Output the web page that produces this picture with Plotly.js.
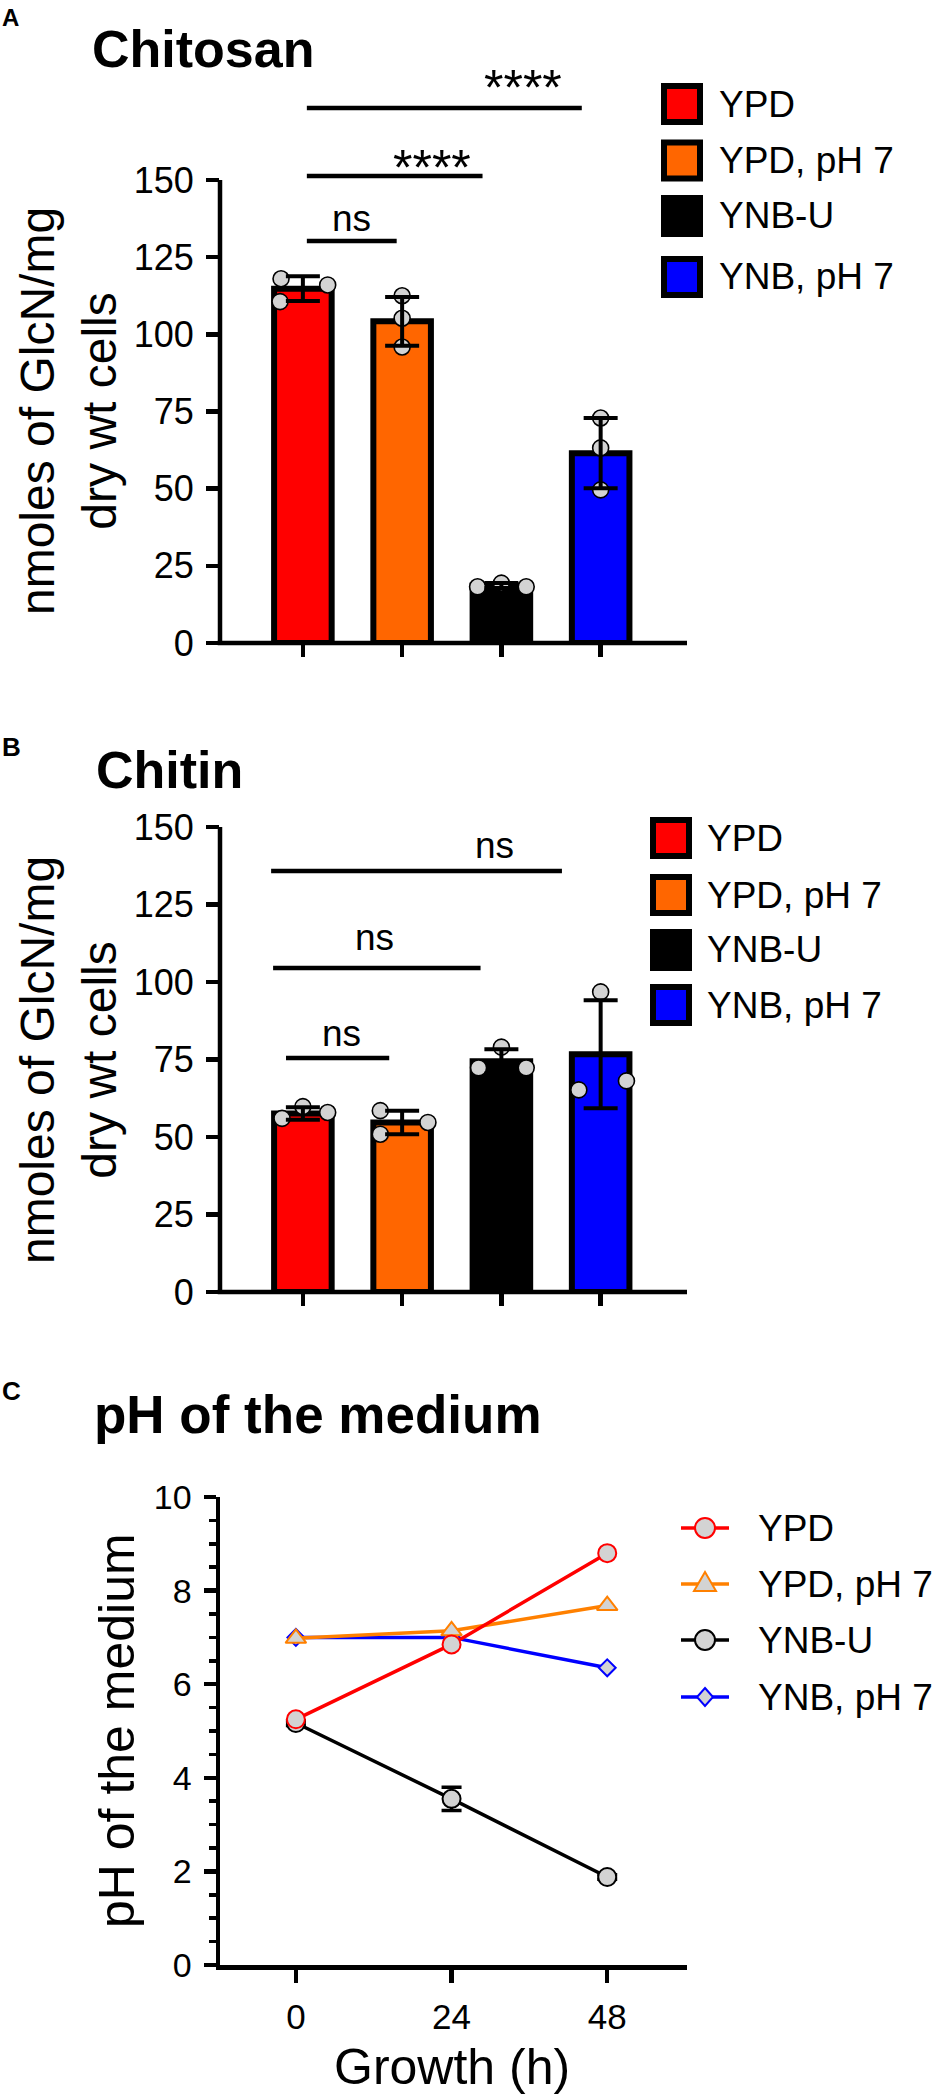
<!DOCTYPE html>
<html>
<head>
<meta charset="utf-8">
<script src="https://cdn.plot.ly/plotly-3.0.1.min.js"></script>
<style>html,body{margin:0;padding:0;background:#fff}#chart{width:946px;height:2099px}</style>
</head>
<body>
<div id="chart"></div>
<script>
// ---------------- data ----------------
const groups = ['YPD', 'YPD, pH 7', 'YNB-U', 'YNB, pH 7'];
const groupIndex = [0, 1, 2, 3];

// Panel A - Chitosan (nmoles GlcN / mg dry wt cells)
const chitosanMean = [114.8, 104.2, 18.6, 61.5];
const chitosanErr  = [4.0, 7.9, 0.8, 11.4];
const chitosanRep1 = [118.0, 112.5, 18.2, 72.9];
const chitosanRep2 = [116.0, 105.2, 19.4, 63.2];
const chitosanRep3 = [110.6, 95.9, 18.2, 49.6];

// Panel B - Chitin
const chitinMean = [57.6, 54.7, 74.4, 76.7];
const chitinErr  = [2.0, 3.8, 3.9, 17.4];
const chitinRep1 = [56.0, 58.5, 72.3, 96.8];
const chitinRep2 = [59.8, 50.9, 79.0, 65.2];
const chitinRep3 = [57.9, 54.7, 72.3, 68.1];

// Panel C - pH of the medium
const hours   = [0, 24, 48];
const phYPD   = [5.25, 6.85, 8.80];
const phYPD7  = [6.98, 7.14, 7.68];
const phYNBU  = [5.17, 3.55, 1.88];
const phYNBUerr = [0.05, 0.25, 0.05];
const phYNB7  = [7.00, 7.00, 6.35];

// tick labels
const amountTicks = [0, 25, 50, 75, 100, 125, 150];
const phTicks = [0, 2, 4, 6, 8, 10];
const hourTicks = [0, 24, 48];

// ---------------- styles / geometry ----------------
const W = 946, H = 2099;
const X = px => px / W;
const Y = py => 1 - py / H;
const FONT = 'Liberation Sans, Arial, Helvetica, sans-serif';
const barColors = ['#ff0000', '#ff6600', '#000000', '#0000ff'];
const GREY = '#d3d3d3';
const LW = 4.5;

// horizontal jitter of the replicate dots (rep1, rep2, rep3) per group
const jitterA = [[-0.22, 0.25, -0.23], [0, 0, 0], [-0.24, 0, 0.25], [0, 0, 0]];
const jitterB = [[-0.21, 0, 0.25], [-0.22, -0.22, 0.26], [-0.23, 0, 0.25], [0, -0.22, 0.26]];

// pixel frames of the three panels
const panA = {x0: 220, x1: 687, zero: 643, top150: 180, top: 60};
const panB = {x0: 220, x1: 687, zero: 1292, top150: 827, top: 800};
const panC = {x0: 220, x1: 687, bottom: 1965, top: 1497};

// significance brackets (group-index extents, level in data units, label spot)
const sigA = [
  {x0: 0.04, x1: 0.945, y: 130.2, tx: 0.49, ty: 137.5, t: 'ns', fs: 37},
  {x0: 0.04, x1: 1.81, y: 151.3, tx: 1.30, ty: 154.0, t: '****', fs: 50},
  {x0: 0.04, x1: 2.81, y: 173.3, tx: 2.22, ty: 179.8, t: '****', fs: 50}
];
const sigB = [
  {x0: -0.17, x1: 0.87, y: 75.5, tx: 0.39, ty: 83.5, t: 'ns', fs: 37},
  {x0: -0.30, x1: 1.79, y: 104.5, tx: 0.72, ty: 114.5, t: 'ns', fs: 37},
  {x0: -0.32, x1: 2.61, y: 135.8, tx: 1.93, ty: 144.0, t: 'ns', fs: 37}
];

function flatten(reps, jit) {
  const xs = [], ys = [];
  for (let g = 0; g < groupIndex.length; g++) {
    for (let r = 0; r < reps.length; r++) {
      xs.push(groupIndex[g] + jit[g][r]);
      ys.push(reps[r][g]);
    }
  }
  return {xs, ys};
}

function barPanel(xa, ya, mean, err, reps, jit) {
  const pts = flatten(reps, jit);
  return [
    {type: 'bar', x: groupIndex, y: mean, xaxis: xa, yaxis: ya, width: 0.58,
     marker: {color: barColors, line: {color: '#000', width: 6}}, hoverinfo: 'skip', showlegend: false},
    {type: 'scatter', mode: 'markers', x: pts.xs, y: pts.ys, xaxis: xa, yaxis: ya, cliponaxis: false,
     marker: {size: 16, color: GREY, line: {color: '#000', width: 1.6}}, hoverinfo: 'skip', showlegend: false},
    {type: 'scatter', mode: 'markers', x: groupIndex, y: mean, xaxis: xa, yaxis: ya, cliponaxis: false,
     marker: {size: 2, opacity: 0},
     error_y: {type: 'data', array: err, visible: true, color: '#000', thickness: 4, width: 17},
     hoverinfo: 'skip', showlegend: false}
  ];
}

const traces = [
  ...barPanel('x', 'y', chitosanMean, chitosanErr, [chitosanRep1, chitosanRep2, chitosanRep3], jitterA),
  ...barPanel('x2', 'y2', chitinMean, chitinErr, [chitinRep1, chitinRep2, chitinRep3], jitterB)
];

const phSeries = [
  {name: 'YNB, pH 7', y: phYNB7, color: '#0000ff', symbol: 'diamond', size: 13},
  {name: 'YNB-U', y: phYNBU, color: '#000000', symbol: 'circle', size: 18, err: phYNBUerr},
  {name: 'YPD, pH 7', y: phYPD7, color: '#ff8000', symbol: 'triangle-up', size: 18},
  {name: 'YPD', y: phYPD, color: '#ff0000', symbol: 'circle', size: 18}
];
phSeries.forEach(s => {
  const t = {type: 'scatter', mode: 'lines+markers', x: hours, y: s.y, xaxis: 'x3', yaxis: 'y3', cliponaxis: false,
    line: {color: s.color, width: 3.5},
    marker: {symbol: s.symbol, size: s.size, color: GREY, line: {color: s.color, width: 2}},
    hoverinfo: 'skip', showlegend: false};
  if (s.err) t.error_y = {type: 'data', array: s.err, visible: true, color: '#000', thickness: 3.5, width: 10};
  traces.push(t);
});

function barXAxis(p) {
  return {domain: [X(p.x0), X(p.x1)], range: [-0.835, 3.87], showline: false, zeroline: false, showgrid: false,
    ticks: 'outside', ticklen: 13, tickwidth: LW, tickcolor: '#000', tickvals: groupIndex, showticklabels: false,
    fixedrange: true};
}
function barYAxis(p, xa) {
  return {domain: [Y(p.zero), Y(p.top)], range: [0, 150 * (p.zero - p.top) / (p.zero - p.top150)], anchor: xa,
    showline: false, zeroline: false, showgrid: false, ticks: 'outside', ticklen: 13, tickwidth: LW, tickcolor: '#000',
    tickvals: amountTicks, ticktext: amountTicks.map(String), ticklabelstandoff: 5,
    tickfont: {family: FONT, size: 36, color: '#000'}, fixedrange: true};
}

const shapes = [];
const annotations = [];

function axisLines(xa, ya) {
  shapes.push({type: 'line', xref: xa + ' domain', yref: ya, x0: 0, x1: 0, y0: 0, y1: 150,
    line: {color: '#000', width: LW}});
  shapes.push({type: 'line', xref: xa + ' domain', yref: ya + ' domain', x0: -0.005, x1: 1, y0: 0, y1: 0,
    line: {color: '#000', width: LW}});
}
axisLines('x', 'y');
axisLines('x2', 'y2');

function sig(list, xa, ya) {
  list.forEach(s => {
    shapes.push({type: 'line', xref: xa, yref: ya, x0: s.x0, x1: s.x1, y0: s.y, y1: s.y,
      line: {color: '#000', width: LW}});
    annotations.push({xref: xa, yref: ya, x: s.tx, y: s.ty, text: s.t, showarrow: false,
      xanchor: 'center', yanchor: 'middle', font: {family: FONT, size: s.fs, color: '#000'}});
  });
}
sig(sigA, 'x', 'y');
sig(sigB, 'x2', 'y2');

function txt(text, px, py, size, opts) {
  annotations.push(Object.assign({xref: 'paper', yref: 'paper', x: X(px), y: Y(py), text: text, showarrow: false,
    xanchor: 'left', yanchor: 'middle', font: {family: FONT, size: size, color: '#000'}}, opts || {}));
}

// square legends for the bar panels
function squareLegend(cx, ys, tx) {
  groups.forEach((g, i) => {
    shapes.push({type: 'rect', xref: 'paper', yref: 'paper',
      x0: X(cx - 18), x1: X(cx + 18), y0: Y(ys[i] + 18), y1: Y(ys[i] - 18),
      fillcolor: barColors[i], line: {color: '#000', width: 6}});
    txt(g, tx, ys[i], 37);
  });
}
squareLegend(682, [104, 160.5, 216, 277], 717);
squareLegend(671, [838, 895, 950, 1005], 705);

// line legend for panel C (order as in figure)
const legC = [phSeries[3], phSeries[2], phSeries[1], phSeries[0]];
const legCy = [1528, 1584, 1640, 1697];
const symPath = {
  'triangle-up': 'M0,12L11,-7L-11,-7Z',
  'diamond': 'M0,9L8,0L0,-9L-8,0Z'
};
legC.forEach((s, i) => {
  const y = legCy[i];
  shapes.push({type: 'line', xref: 'paper', yref: 'paper', x0: X(681), x1: X(729), y0: Y(y), y1: Y(y),
    line: {color: s.color, width: 3.5}});
  const base = {xref: 'paper', yref: 'paper', xsizemode: 'pixel', ysizemode: 'pixel', xanchor: X(705), yanchor: Y(y),
    fillcolor: GREY, line: {color: s.color, width: 2}};
  if (s.symbol === 'circle') shapes.push(Object.assign({type: 'circle', x0: -10, x1: 10, y0: -10, y1: 10}, base));
  else shapes.push(Object.assign({type: 'path', path: symPath[s.symbol]}, base));
  txt(s.name, 756, y, 37);
});

// titles & labels
txt('<b>A</b>', 0, 18, 24);
txt('<b>B</b>', 0, 747, 26);
txt('<b>C</b>', 0, 1391, 26);
txt('<b>Chitosan</b>', 90, 49, 52);
txt('<b>Chitin</b>', 94, 770, 52);
txt('<b>pH of the medium</b>', 92, 1414, 53);
txt('nmoles of GlcN/mg<br>dry wt cells', 68, 411, 48, {textangle: -90, xanchor: 'center'});
txt('nmoles of GlcN/mg<br>dry wt cells', 68, 1060, 48, {textangle: -90, xanchor: 'center'});
txt('pH of the medium', 117, 1731, 50, {textangle: -90, xanchor: 'center'});
txt('Growth (h)', 452, 2067, 50, {xanchor: 'center'});

const layout = {
  width: W, height: H, margin: {l: 0, r: 0, t: 0, b: 0, pad: 0},
  paper_bgcolor: '#fff', plot_bgcolor: 'rgba(0,0,0,0)', showlegend: false,
  font: {family: FONT, color: '#000'},
  xaxis: barXAxis(panA), yaxis: barYAxis(panA, 'x'),
  xaxis2: Object.assign(barXAxis(panB), {anchor: 'y2'}), yaxis2: barYAxis(panB, 'x2'),
  xaxis3: {domain: [X(panC.x0), X(panC.x1)], range: [-11.7, 60.3], anchor: 'y3',
    showline: true, linewidth: LW, linecolor: '#000', zeroline: false, showgrid: false,
    ticks: 'outside', ticklen: 13, tickwidth: LW, tickcolor: '#000', tickvals: hourTicks,
    ticktext: hourTicks.map(String), ticklabelstandoff: 4,
    tickfont: {family: FONT, size: 35, color: '#000'}, fixedrange: true},
  yaxis3: {domain: [Y(panC.bottom), Y(panC.top)], range: [0, 10], anchor: 'x3',
    showline: true, linewidth: LW, linecolor: '#000', zeroline: false, showgrid: false,
    ticks: 'outside', ticklen: 12, tickwidth: LW, tickcolor: '#000', tickvals: phTicks,
    ticktext: phTicks.map(String), ticklabelstandoff: 5,
    minor: {dtick: 0.5, tick0: 0, ticks: 'outside', ticklen: 7, tickwidth: 3.5, tickcolor: '#000', showgrid: false},
    tickfont: {family: FONT, size: 34, color: '#000'}, fixedrange: true},
  shapes: shapes,
  annotations: annotations
};

Plotly.newPlot('chart', traces, layout, {displayModeBar: false, staticPlot: true});
</script>
</body>
</html>
